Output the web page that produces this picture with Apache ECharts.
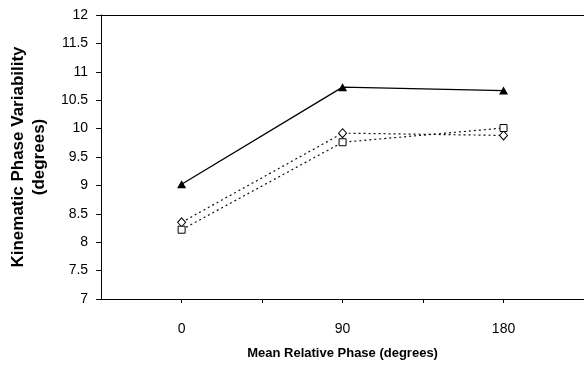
<!DOCTYPE html>
<html>
<head>
<meta charset="utf-8">
<script src="https://cdn.jsdelivr.net/npm/echarts@6/dist/echarts.min.js"></script>
<style>html,body{margin:0;padding:0;background:#fff;}#c{width:584px;height:367px;}</style>
</head>
<body>
<div id="c"></div>
<script>
var phases = [0, 90, 180];
var xTickLabels = ['0', '90', '180'];
var triangleSeries = [9.02, 10.73, 10.67];
var diamondSeries = [8.35, 9.92, 9.88];
var squareSeries = [8.22, 9.76, 10.01];

function pairs(vals) { return phases.map(function (p, i) { return [p, vals[i]]; }); }

var chart = echarts.init(document.getElementById('c'), null, { renderer: 'canvas' });
var font = '"Liberation Sans", Arial, sans-serif';
chart.setOption({
  animation: false,
  backgroundColor: '#fff',
  grid: { left: 100, top: 15, width: 486, height: 284, containLabel: false },
  xAxis: [{
    type: 'value', min: -45, max: 225, interval: 45,
    name: 'Mean Relative Phase (degrees)', nameLocation: 'middle', nameGap: 48,
    nameTextStyle: { fontFamily: font, fontWeight: 'bold', fontSize: 13, color: '#000' },
    axisLine: { show: true, onZero: false, lineStyle: { color: '#000', width: 1 } },
    axisTick: { show: true, length: 4, inside: false, lineStyle: { color: '#000' } },
    axisLabel: {
      fontFamily: font, fontSize: 14, color: '#000', margin: 23, showMinLabel: false, showMaxLabel: false,
      formatter: function (v) { var i = phases.indexOf(v); return i >= 0 ? xTickLabels[i] : ''; }
    },
    splitLine: { show: false }
  }, {
    type: 'value', position: 'top', min: -45, max: 225,
    axisLine: { show: true, onZero: false, lineStyle: { color: '#000', width: 1 } },
    axisTick: { show: false }, axisLabel: { show: false }, splitLine: { show: false }
  }],
  yAxis: {
    type: 'value', min: 7, max: 12, interval: 0.5,
    name: 'Kinematic Phase Variability\n(degrees)', nameLocation: 'middle', nameGap: 51, nameRotate: 90,
    nameTextStyle: { fontFamily: font, fontWeight: 'bold', fontSize: 17, color: '#000', lineHeight: 21, align: 'center' },
    axisLine: { show: true, onZero: false, lineStyle: { color: '#000', width: 1 } },
    axisTick: { show: true, length: 5, lineStyle: { color: '#000' } },
    axisLabel: { fontFamily: font, fontSize: 14, color: '#000', margin: 13 },
    splitLine: { show: false }
  },
  series: [{
    type: 'line', data: pairs(triangleSeries), symbol: 'triangle', symbolSize: [9, 8],
    itemStyle: { color: '#000' }, lineStyle: { color: '#000', width: 1.3, type: 'solid' }, z: 3
  }, {
    type: 'line', data: pairs(diamondSeries), symbol: 'diamond', symbolSize: [8, 9],
    itemStyle: { color: '#fff', borderColor: '#000', borderWidth: 1 },
    lineStyle: { color: '#111', width: 1.2, type: [2, 3] }, z: 2
  }, {
    type: 'line', data: pairs(squareSeries), symbol: 'rect', symbolSize: [7, 7],
    itemStyle: { color: '#fff', borderColor: '#000', borderWidth: 1 },
    lineStyle: { color: '#111', width: 1.2, type: [2, 3] }, z: 2
  }]
});
</script>
</body>
</html>
